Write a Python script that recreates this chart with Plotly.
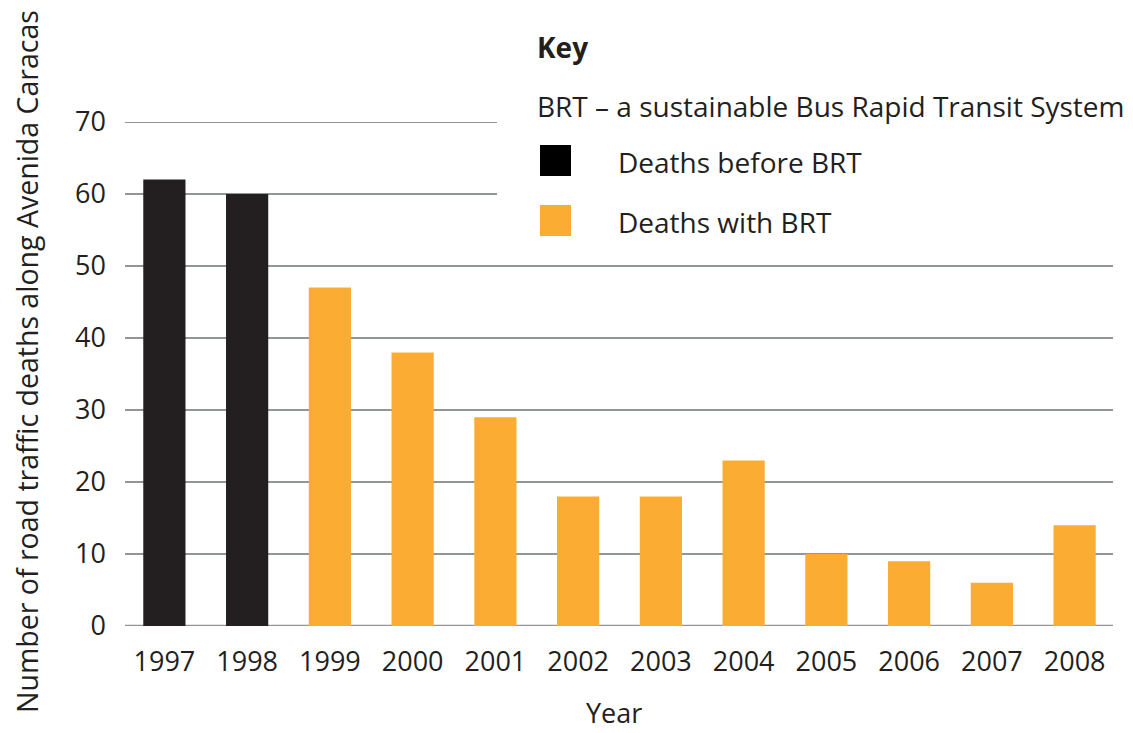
import plotly.graph_objects as go

years = ["1997", "1998", "1999", "2000", "2001", "2002", "2003", "2004", "2005", "2006", "2007", "2008"]
deaths = [62, 60, 47, 38, 29, 18, 18, 23, 10, 9, 6, 14]
period = ["before", "before", "with", "with", "with", "with", "with", "with", "with", "with", "with", "with"]
y_ticks = [0, 10, 20, 30, 40, 50, 60, 70]

BLACK = "#231f20"
ORANGE = "#fbad33"
GRID = "#939699"
FONT = "Open Sans"

colors = [BLACK if p == "before" else ORANGE for p in period]

fig = go.Figure()
fig.add_trace(go.Bar(x=years, y=deaths, marker=dict(color=colors, line=dict(width=0)),
                     showlegend=False, hoverinfo="x+y"))

W, H = 993, 504  # plot area size in px
X0, Y0 = 123, 626  # screen position of plot origin

def px(x):
    return (x - X0) / W

def py(y):
    return (Y0 - y) / H

# gridlines (upper ones stop short where the key sits)
shapes = []
for t in y_ticks:
    x1 = px(497) if t >= 60 else px(1113)
    shapes.append(dict(type="line", xref="paper", yref="y", x0=px(125), x1=x1, y0=t, y1=t,
                       line=dict(color=GRID, width=2.6 if t == 0 else 2), layer="below"))

# key squares
shapes.append(dict(type="rect", xref="paper", yref="paper", x0=px(540), x1=px(571),
                   y0=py(176), y1=py(145), fillcolor="#000000", line=dict(width=0)))
shapes.append(dict(type="rect", xref="paper", yref="paper", x0=px(540), x1=px(571),
                   y0=py(236), y1=py(205), fillcolor=ORANGE, line=dict(width=0)))

def ann(text, x, y):
    return dict(text=text, x=px(x), y=py(y), xref="paper", yref="paper",
                xanchor="left", yanchor="middle", showarrow=False,
                font=dict(size=28, color=BLACK, family=FONT))

annotations = [
    ann("<b>Key</b>", 535, 47),
    ann("BRT – a sustainable Bus Rapid Transit System", 535, 106),
    ann("Deaths before BRT", 616, 162),
    ann("Deaths with BRT", 616, 222),
    dict(text="Number of road traffic deaths along Avenida Caracas", x=px(27), y=py(362),
         xref="paper", yref="paper", xanchor="center", yanchor="middle", textangle=-90,
         showarrow=False, borderpad=0, font=dict(size=28.5, color=BLACK, family=FONT)),
    dict(text="Year", x=px(614), y=py(712), xref="paper", yref="paper",
         xanchor="center", yanchor="middle", showarrow=False, borderpad=0,
         font=dict(size=27, color=BLACK, family=FONT)),
]

fig.update_layout(
    width=1125, height=725,
    margin=dict(l=115, r=17, t=114, b=107),
    paper_bgcolor="white", plot_bgcolor="white",
    font=dict(family=FONT, color=BLACK, size=27),
    bargap=0.49,
    shapes=shapes,
    annotations=annotations,
    xaxis=dict(showgrid=False, showline=False, zeroline=False, ticks="", automargin=False,
               tickfont=dict(size=27, color=BLACK), ticklabelstandoff=17),
    yaxis=dict(range=[0, 70], tickvals=y_ticks, showgrid=False, zeroline=False, showline=False,
               ticks="", automargin=False, tickfont=dict(size=27, color=BLACK), ticklabelstandoff=16),
)

fig.write_html("out.html")
